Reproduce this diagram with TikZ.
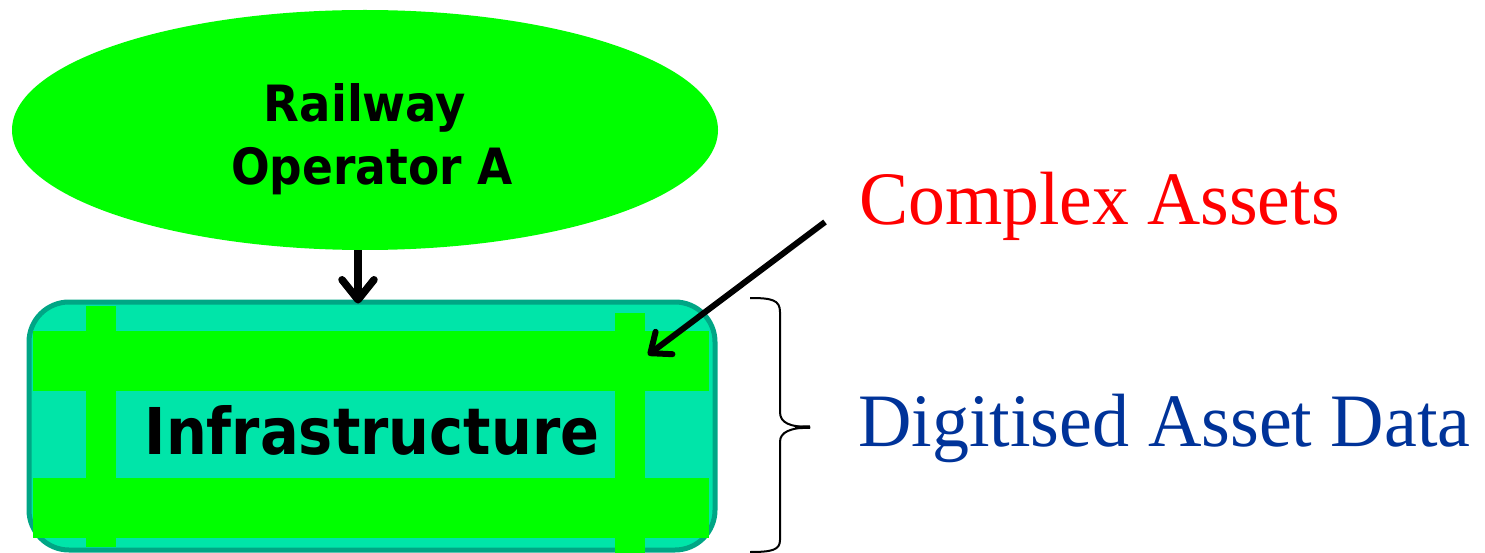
\documentclass[tikz,border=0pt]{standalone}
\usepackage{fontspec}
\setmainfont{Liberation Serif}
\newfontfamily\boldsans{DejaVu Sans Bold}
\usetikzlibrary{shapes.geometric,arrows.meta}
\definecolor{brightgreen}{HTML}{00FF00}
\definecolor{aqua}{HTML}{00E5A9}
\definecolor{tealborder}{HTML}{00A685}
\definecolor{darkblue}{HTML}{003399}
\definecolor{redtxt}{HTML}{FF0000}
\tikzset{
  opnode/.style={ellipse, fill=brightgreen, draw=none, minimum width=706pt, minimum height=240pt, inner sep=0pt},
  boxnode/.style={rounded corners=40pt, fill=aqua, draw=tealborder, line width=5pt, minimum width=686pt, minimum height=248pt, inner sep=0pt},
  bar/.style={fill=brightgreen, draw=none},
  sanslabel/.style={inner sep=0pt, anchor=base, font=\boldsans},
  seriflabel/.style={inner sep=0pt, anchor=base west},
  arr/.style={line width=7.5pt, -{Straight Barb[length=20pt, width=32pt, line width=7.5pt, line cap=round, line join=round]}},
  arrd/.style={line width=6pt, -{Straight Barb[length=17pt, width=28pt, line width=6pt, line cap=round, line join=round]}},
  bracepath/.style={line width=2pt, line join=round}
}
\begin{document}
\begin{tikzpicture}[x=1pt, y=-1pt]
\useasboundingbox (0,0) rectangle (1485,553);
% ellipse
\node[opnode] (op) at (365,130) {};
\node[sanslabel, font=\boldsans\fontsize{50}{60}\selectfont] (t1) at (365,122) {\scalebox{0.93}[1]{Railway}};
\node[sanslabel, font=\boldsans\fontsize{50}{60}\selectfont] (t2) at (372,185) {\scalebox{0.91}[1]{Operator A}};
% infrastructure box
\node[boxnode] (infra) at (372,426) {};
\fill[bar] (33,331) rectangle (709,391);
\fill[bar] (33,478) rectangle (709,538);
\fill[bar] (86,306) rectangle (116,547);
\fill[bar] (615,313) rectangle (645,553);
\node[sanslabel, font=\boldsans\fontsize{64.5}{75}\selectfont] (t3) at (372,454) {\scalebox{0.89}[1]{Infrastructure}};
% arrows
\draw[arr] (op.south) ++(-7,0) coordinate (a1) -- ([yshift=-4pt]a1 |- infra.north);
\coordinate (cs) at (825,222);
\coordinate (ce) at (648,355);
\draw[arrd] (cs) -- (ce);
% brace
\coordinate (b1) at (750,298);
\coordinate (b2) at (810,427);
\coordinate (b3) at (750,552);
\draw[bracepath] (b1) .. controls (772,298) and (780,300) .. (780,312) -- (780,412)
  .. controls (780,423) and (790,427) .. (b2);
\draw[bracepath] (b2) .. controls (790,428) and (780,432) .. (780,442) -- (780,540)
  .. controls (780,550) and (772,552) .. (b3);
\draw[line width=3.5pt] (795,427.5) -- (b2);
% right labels
\node[seriflabel, text=redtxt, font=\fontsize{75.5}{90}\selectfont] (ca) at (859,225) {\scalebox{0.975}[1]{Complex Assets}};
\node[seriflabel, text=darkblue, font=\fontsize{75.5}{90}\selectfont] (da) at (858,446) {\scalebox{0.98}[1]{Digitised Asset Data}};
\end{tikzpicture}
\end{document}
